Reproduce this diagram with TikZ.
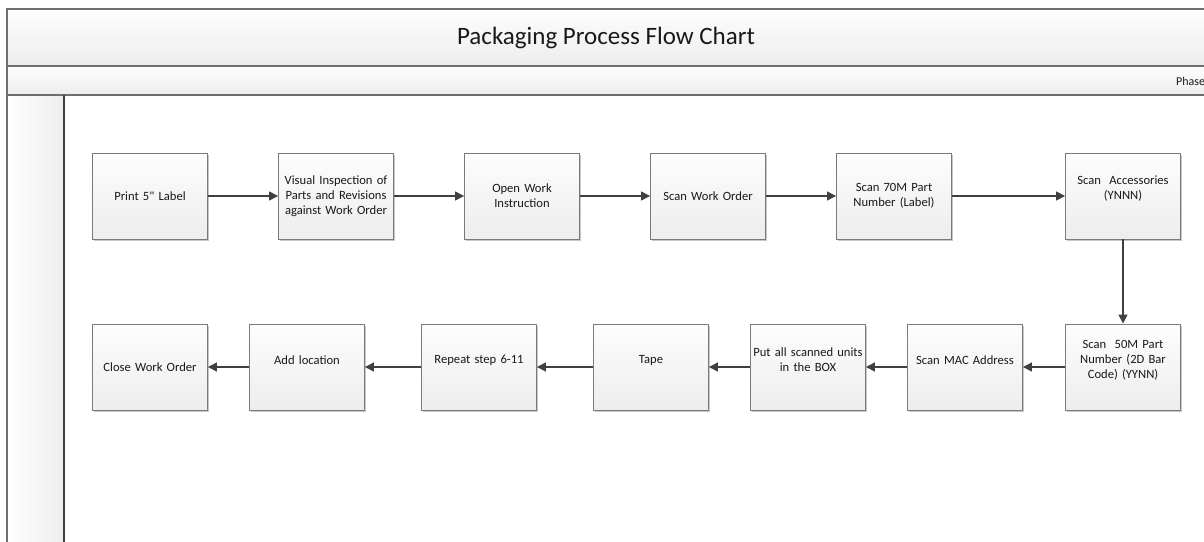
\documentclass[tikz,border=0pt]{standalone}
\usepackage{fontspec}
\setmainfont{Carlito}[Ligatures=TeXOff]
\usetikzlibrary{arrows.meta,shadows}
\definecolor{framegray}{HTML}{6E6E6E}
\definecolor{lanegray}{HTML}{3F3F3F}
\definecolor{boxline}{HTML}{7A7A7A}
\definecolor{linkgray}{HTML}{404040}
\definecolor{shadetop}{HTML}{FDFDFD}
\definecolor{shadebot}{HTML}{EDEDED}
\begin{document}
\begin{tikzpicture}[x=1pt,y=-1pt,
  stepbox/.style={draw=boxline, line width=0.9pt, minimum width=115pt, minimum height=86pt,
    top color=shadetop, bottom color=shadebot,
    drop shadow={shadow xshift=1.6pt, shadow yshift=-1.6pt, opacity=0.22, fill=black}},
  boxtext/.style={align=center, text width=110pt, inner sep=0pt,
    font=\fontsize{12.6}{15}\selectfont, text=black!90},
  link/.style={draw=linkgray, line width=1.4pt, -{Triangle[length=9pt,width=9pt]}},
  frameline/.style={draw=framegray, line width=1.6pt}]
\useasboundingbox (0,0) rectangle (1204,541);
\clip (0,0) rectangle (1204,541);
\fill[white] (0,0) rectangle (1204,541);

% pool header bands and lane strip
\shade[top color=shadetop, bottom color=shadebot] (7,9) rectangle (1210,66);
\shade[top color=shadetop, bottom color=shadebot] (7,66) rectangle (1210,95);
\shade[left color=white, right color=shadebot] (7,95) rectangle (64,545);
\draw[frameline] (1210,9) -- (7,9) -- (7,545);
\draw[frameline] (7,66) -- (1210,66);
\draw[frameline] (7,95) -- (1210,95);
\draw[draw=lanegray, line width=1.1pt] (64,95) -- (64,545);

\node[font=\fontsize{25}{30}\selectfont, text=black!90] (title) at (606,38) {Packaging Process Flow Chart};
\node[font=\fontsize{12}{14}\selectfont, text=black!90, anchor=west, inner sep=0pt] (phase) at (1176,81) {Phase};

% first row
\node[stepbox] (s1) at (150,196) {};
\node[stepbox] (s2) at (336,196) {};
\node[stepbox] (s3) at (522,196) {};
\node[stepbox] (s4) at (708,196) {};
\node[stepbox] (s5) at (894,196) {};
\node[stepbox] (s6) at (1123,196) {};
% second row
\node[stepbox] (s7) at (1123,367) {};
\node[stepbox] (s8) at (965,367) {};
\node[stepbox] (s9) at (808,367) {};
\node[stepbox] (s10) at (651,367) {};
\node[stepbox] (s11) at (479,367) {};
\node[stepbox] (s12) at (307,367) {};
\node[stepbox] (s13) at (150,367) {};

% step captions
\node[boxtext] (t1) at (s1.center) {Print 5" Label};
\node[boxtext] (t2) at (s2.center) {Visual Inspection of\\Parts and Revisions\\against Work Order};
\node[boxtext] (t3) at (s3.center) {Open Work\\Instruction};
\node[boxtext] (t4) at (s4.center) {Scan Work Order};
\node[boxtext] (t5) at (s5.center) {Scan 70M Part\\Number (Label)};
\node[boxtext] (t6) at ([yshift=7pt]s6.center) {Scan\ \ Accessories\\(YNNN)};
\node[boxtext] (t7) at ([yshift=7pt]s7.center) {Scan\ \ 50M Part\\Number (2D Bar\\Code) (YYNN)};
\node[boxtext] (t8) at ([yshift=7pt]s8.center) {Scan MAC Address};
\node[boxtext] (t9) at ([yshift=7pt]s9.center) {Put all scanned units\\in the BOX};
\node[boxtext] (t10) at ([yshift=7pt]s10.center) {Tape};
\node[boxtext] (t11) at ([yshift=7pt]s11.center) {Repeat step 6-11};
\node[boxtext] (t12) at ([yshift=7pt]s12.center) {Add location};
\node[boxtext] (t13) at (s13.center) {Close Work Order};

% connectors
\draw[link] (s1) -- (s2);
\draw[link] (s2) -- (s3);
\draw[link] (s3) -- (s4);
\draw[link] (s4) -- (s5);
\draw[link] (s5) -- (s6);
\draw[link] (s6) -- (s7);
\draw[link] (s7) -- (s8);
\draw[link] (s8) -- (s9);
\draw[link] (s9) -- (s10);
\draw[link] (s10) -- (s11);
\draw[link] (s11) -- (s12);
\draw[link] (s12) -- (s13);
\end{tikzpicture}
\end{document}
